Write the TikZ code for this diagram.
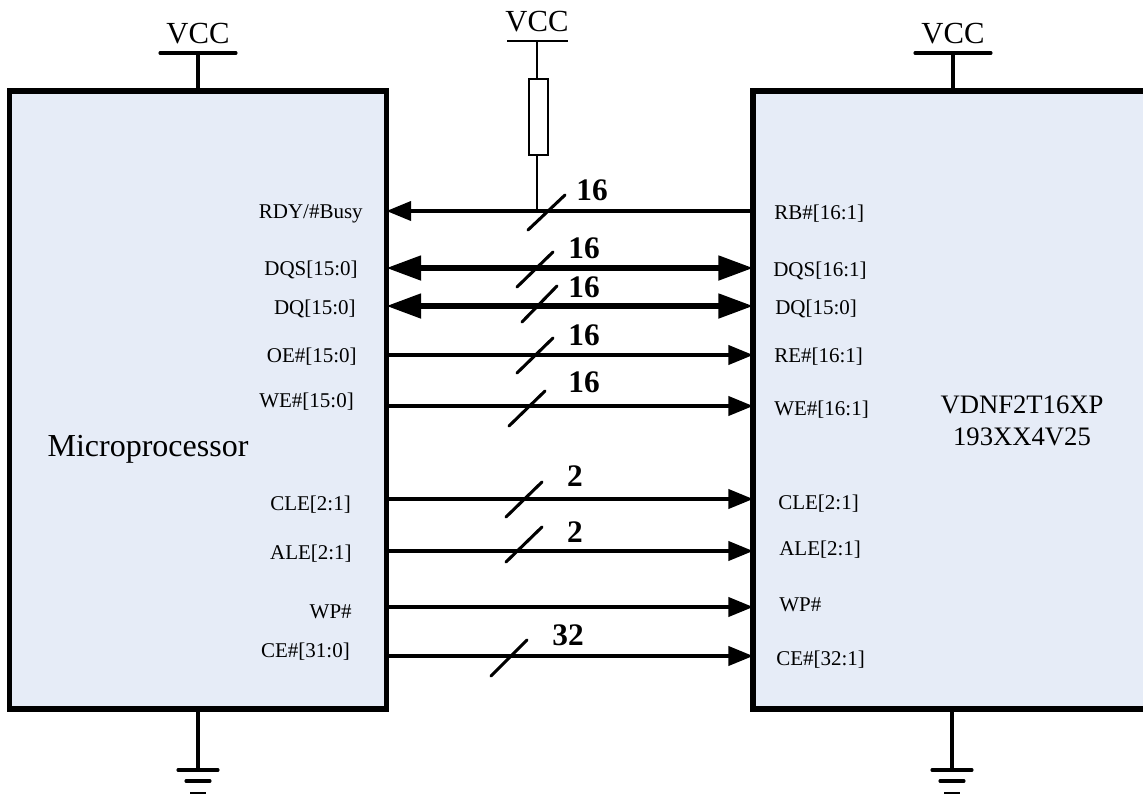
\documentclass[tikz,border=0pt]{standalone}
\usepackage{fontspec}
\setmainfont{Liberation Serif}
\usepackage{tikz}
\usetikzlibrary{positioning,arrows.meta,calc}
\definecolor{chipfill}{RGB}{230,236,247}
\tikzset{
    chip/.style={draw,line width=4.4pt,fill=chipfill,inner sep=0pt,outer sep=0pt,minimum height=463.5pt},
    wire/.style={line width=2.3pt},
    thinwire/.style={line width=1.7pt},
    rightsig/.style={wire,-{Triangle[length=18.5pt,width=14.5pt]}},
    leftsig/.style={wire,{Triangle[length=18.5pt,width=14.5pt]}-},
    bothsig/.style={line width=3.8pt,{Triangle[length=26pt,width=18pt]}-{Triangle[length=26pt,width=18pt]}},
    pinlabel/.style={font=\fontsize{15.75}{18}\selectfont,inner sep=0pt},
    buscount/.style={font=\fontsize{23.5}{26}\selectfont\bfseries,inner sep=0pt},
    vcclabel/.style={font=\fontsize{23}{26}\selectfont,inner sep=0pt}
}
\begin{document}
\begin{tikzpicture}[x=0.75pt,y=-0.75pt]
    \useasboundingbox (0,0) rectangle (1143,793);

    % Chips
    \node[chip,minimum width=282.75pt] (mpu) at (198,400) {};
    \node[chip,minimum width=297.75pt] (nand) at (951.5,400) {};
    \node[font=\fontsize{24}{28}\selectfont] (mpuname) at (148,449) {Microprocessor};
    \node[font=\fontsize{20}{24}\selectfont,align=center] (nandname) at (1022,421) {VDNF2T16XP\\193XX4V25};

    % Pin labels, left side
    \foreach \n/\x/\y/\t in {a/363/214/{RDY/\#Busy},b/358/270/DQS[15:0],c/356/309/DQ[15:0],d/357/357/OE\#[15:0],e/354/402/WE\#[15:0],f/351/505/CLE[2:1],g/352/554/ALE[2:1],h/352/612/WP\#,i/350/652/CE\#[31:0]} {
        \node[pinlabel,anchor=east] (pinl\n) at (\x,\y) {\t};
    }
    % Pin labels, right side
    \foreach \n/\x/\y/\t in {a/774/214/RB\#[16:1],b/773/271/DQS[16:1],c/775/309/DQ[15:0],d/774/357/RE\#[16:1],e/774/410/WE\#[16:1],f/778/504/CLE[2:1],g/779/550/ALE[2:1],h/779/605/WP\#,i/776/660/CE\#[32:1]} {
        \node[pinlabel,anchor=west] (pinr\n) at (\x,\y) {\t};
    }

    % Signals
    \foreach \n/\y/\s in {a/211/leftsig,b/268/bothsig,c/306/bothsig,d/355/rightsig,e/406/rightsig,f/499/rightsig,g/551/rightsig,h/607/rightsig,i/656/rightsig} {
        \coordinate (sigl\n) at (mpu.east |- 0,\y);
        \coordinate (sigr\n) at (nand.west |- 0,\y);
        \draw[\s] (sigl\n) -- (sigr\n);
    }

    % Bus slashes and widths
    \foreach \xa/\ya/\xb/\yb/\xn/\yn/\t in {528/230/565/195/592/190/16,517/287/553/252/584/248/16,522/322/557/286/584/287/16,517/373/553/338/584/335/16,509/426/545/391/584/382/16,506/517/542/482/575/476/2,506/562/542/527/575/532/2,491/676/527/640/568/635/32} {
        \draw[wire,line cap=round] (\xa,\ya) -- (\xb,\yb);
        \node[buscount] at (\xn,\yn) {\t};
    }

    % VCC on the chips
    \foreach \c/\x in {mpu/198,nand/953} {
        \node[vcclabel] (vcc\c) at (\x,34) {VCC};
        \coordinate (vccbar\c) at (\x,53);
        \draw[wire,line cap=round] ($(vccbar\c)+(-38,0)$) -- ($(vccbar\c)+(38,0)$);
        \draw[wire] (vccbar\c) -- (\c.north -| vccbar\c);
    }

    % Pull-up on the ready line
    \node[vcclabel] (vccpull) at (537,22) {VCC};
    \coordinate (vccbarpull) at (537,41);
    \node[draw,thinwire,fill=white,inner sep=0pt,minimum width=14pt,minimum height=57pt] (pullup) at (538.5,117) {};
    \coordinate (pulljoin) at (537,211);
    \draw[thinwire] ($(vccbarpull)+(-30,0)$) -- ($(vccbarpull)+(31,0)$);
    \draw[thinwire] (vccbarpull) -- (537,79);
    \draw[thinwire] (537,155) -- (pulljoin);

    % Ground
    \foreach \c/\x in {mpu/198,nand/952} {
        \coordinate (gnd\c) at (\x,770);
        \draw[wire] (\c.south -| gnd\c) -- (gnd\c);
        \draw[wire,line cap=round] ($(gnd\c)+(-20,0)$) -- ($(gnd\c)+(20,0)$);
        \draw[wire,line cap=round] ($(gnd\c)+(-12,11)$) -- ($(gnd\c)+(12,11)$);
        \draw[wire] ($(gnd\c)+(-8,24)$) -- ($(gnd\c)+(8,24)$);
    }
\end{tikzpicture}
\end{document}
